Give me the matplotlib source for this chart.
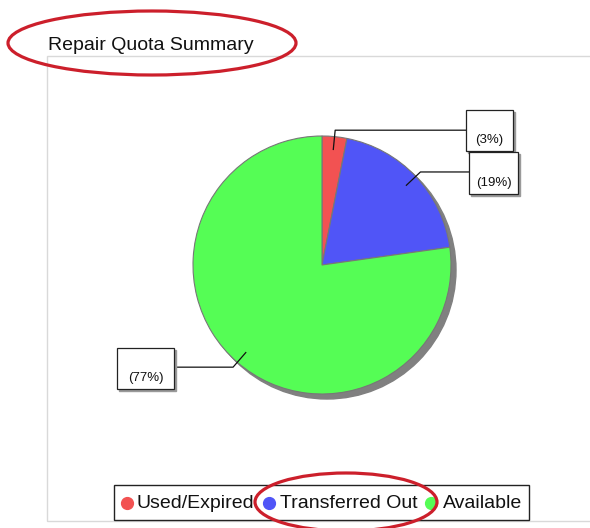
import numpy as np
import matplotlib
matplotlib.use("Agg")
import matplotlib.pyplot as plt
from matplotlib.patches import Rectangle, Circle, Ellipse
from matplotlib.lines import Line2D

plt.rcParams['font.family'] = ['Liberation Sans', 'DejaVu Sans']

# data
categories = ["Used/Expired", "Transferred Out", "Available"]
values = [3.1, 19.7, 77.2]
colors = ["#f25252", "#5055f7", "#55fd55"]
title = "Repair Quota Summary"

W, H = 590, 528


def Y(y):
    # layout is measured top-down in pixels
    return H - y


fig = plt.figure(figsize=(W / 100, H / 100), dpi=100)
ax = fig.add_axes([0, 0, 1, 1])

cx, cy, r = 322, 265, 129

# chart frame
ax.add_patch(Rectangle((47, Y(521)), 560, 465, fill=False, edgecolor="#d9d9d9", lw=1, zorder=0))
ax.text(48, Y(50), title, fontsize=14, color="#111111", va="baseline", ha="left")

# pie shadow + pie
ax.add_patch(Circle((cx + 5, Y(cy) - 5), r, color="#808080", zorder=1))
ax.pie(values, colors=colors, startangle=90, counterclock=False,
       center=(cx, Y(cy)), radius=r,
       wedgeprops=dict(edgecolor="#777777", linewidth=0.8, zorder=2))

# label boxes (x0, top, x1, bottom) in pixels
boxes = [(466, 110, 513, 151), (469, 152, 518, 194), (117, 348, 174, 389)]

fracs = np.array(values) / sum(values)
starts = np.concatenate([[0], np.cumsum(fracs)[:-1]])
for v, f, s, (bx0, by0, bx1, by1) in zip(values, fracs, starts, boxes):
    ang = np.deg2rad(90 - 360 * (s + f / 2))
    p0 = (cx + 0.9 * r * np.cos(ang), Y(cy) + 0.9 * r * np.sin(ang))
    p1 = (cx + 1.05 * r * np.cos(ang), Y(cy) + 1.05 * r * np.sin(ang))
    xe = bx0 if p1[0] > cx else bx1
    ax.plot([p0[0], p1[0], xe], [p0[1], p1[1], p1[1]], color="#111111", lw=0.9, zorder=4)
    ax.add_patch(Rectangle((bx0 + 2, Y(by1) - 2), bx1 - bx0, by1 - by0, color="#9a9a9a", zorder=5))
    ax.add_patch(Rectangle((bx0, Y(by1)), bx1 - bx0, by1 - by0, facecolor="white",
                           edgecolor="#222222", lw=0.9, zorder=6))
    ax.text((bx0 + bx1) / 2, Y(by1 - 11), "(%d%%)" % int(v), fontsize=9.5,
            ha="center", va="center", color="#111111", zorder=7)

# legend
ax.add_patch(Rectangle((114, Y(520)), 415, 35, facecolor="white", edgecolor="#222222", lw=1, zorder=3))
marker_x = [127, 269, 431]
text_x = [137, 280, 443]
for name, c, mx, tx in zip(categories, colors, marker_x, text_x):
    ax.text(tx, Y(503), name, fontsize=14, ha="left", va="center", color="#111111", zorder=4)
    ax.plot([mx], [Y(503)], "o", color=c, markersize=8.5, zorder=5)

# red hand-drawn highlight rings
ax.add_patch(Ellipse((152, Y(43)), 288, 64, fill=False, edgecolor="#cc1f2b", lw=2.3, zorder=8))
ax.add_patch(Ellipse((346, Y(502)), 182, 58, fill=False, edgecolor="#cc1f2b", lw=2.3, zorder=8))

ax.set_xlim(0, W)
ax.set_ylim(0, H)
ax.set_aspect("equal")
ax.axis("off")

fig.savefig("out.png", dpi=100)
